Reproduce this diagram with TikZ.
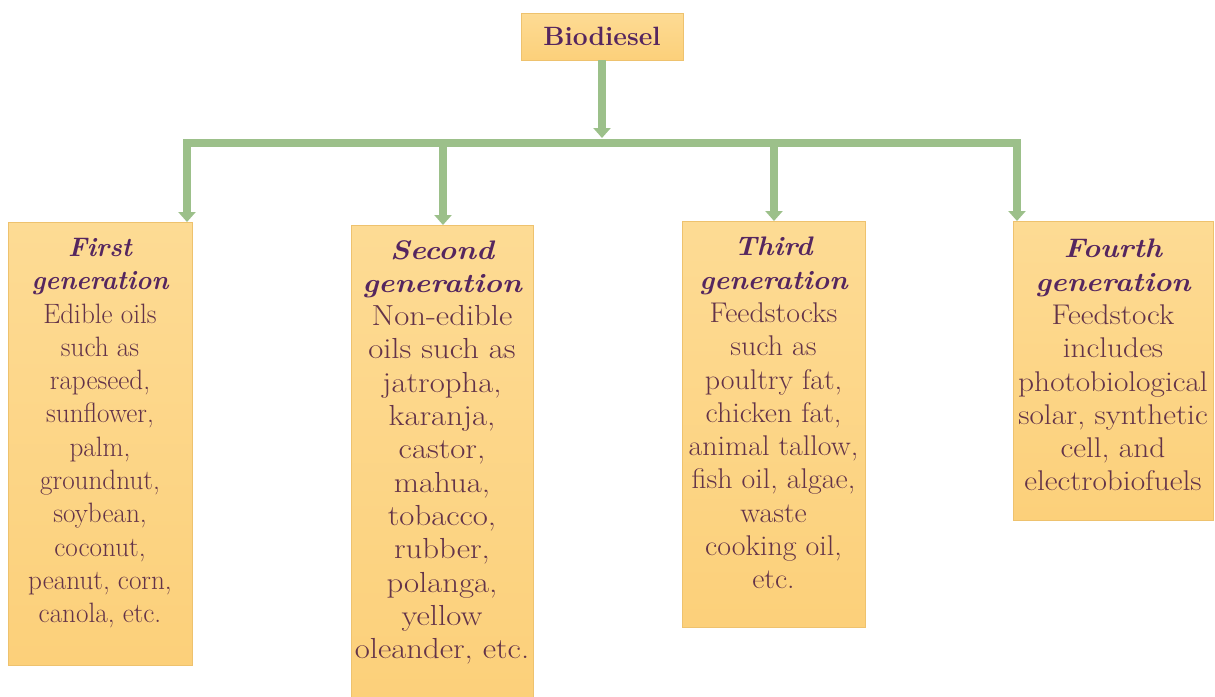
\documentclass[tikz,border=0pt]{standalone}
\usepackage{fontspec}
\usetikzlibrary{arrows.meta}
\definecolor{boxtop}{HTML}{FDDB94}
\definecolor{boxbot}{HTML}{FCD07A}
\definecolor{boxedge}{HTML}{EEC26E}
\definecolor{bodycol}{HTML}{633349}
\definecolor{titlecol}{HTML}{55265F}
\definecolor{conn}{HTML}{9CC08A}
\tikzset{
  genbox/.style={rectangle, draw=boxedge, line width=0.8pt, top color=boxtop, bottom color=boxbot, inner sep=0pt},
  gentext/.style={align=center, inner sep=0pt, anchor=north, text=bodycol, font=\fontsize{28}{33.3}\selectfont},
  bar/.style={draw=conn, line width=8pt},
  drop/.style={draw=conn, line width=8pt, -{Triangle[width=17pt,length=10pt,fill=conn]}},
}
\newcommand{\gtitle}[1]{{\fontsize{26.8}{33.3}\selectfont\bfseries\itshape\color{titlecol}#1}}
\begin{document}
\begin{tikzpicture}[x=1pt,y=-1pt]
\useasboundingbox (0,0) rectangle (1215,696);
% top node
\node[genbox, minimum width=162pt, minimum height=47pt, text=titlecol, font=\fontsize{26.5}{33}\selectfont\bfseries] (bio) at (602,36.5) {Biodiesel};
% boxes
\node[genbox, minimum width=184pt, minimum height=443pt, anchor=north west] (b1) at (8,222) {};
\node[genbox, minimum width=182pt, minimum height=475pt, anchor=north west] (b2) at (351,225) {};
\node[genbox, minimum width=183pt, minimum height=406pt, anchor=north west] (b3) at (682,221) {};
\node[genbox, minimum width=200pt, minimum height=299pt, anchor=north west] (b4) at (1013,221) {};
% texts
\node[gentext, xscale=0.97, transform shape] (t1) at (100,238) {\gtitle{First}\\\gtitle{generation}\\Edible oils\\such as\\rapeseed,\\sunflower,\\palm,\\groundnut,\\soybean,\\coconut,\\peanut, corn,\\canola, etc.};
\node[gentext, font=\fontsize{29}{33.3}\selectfont, xscale=1.13, transform shape] (t2) at (442,240) {\gtitle{Second}\\\gtitle{generation}\\Non-edible\\oils such as\\jatropha,\\karanja,\\castor,\\mahua,\\tobacco,\\rubber,\\polanga,\\yellow\\oleander, etc.};
\node[gentext, font=\fontsize{28.5}{33.3}\selectfont, xscale=1.05, transform shape] (t3) at (773.5,237) {\gtitle{Third}\\\gtitle{generation}\\Feedstocks\\such as\\poultry fat,\\chicken fat,\\animal tallow,\\fish oil, algae,\\waste\\cooking oil,\\etc.};
\node[gentext, font=\fontsize{28.5}{33.3}\selectfont, xscale=1.1, transform shape] (t4) at (1113,239) {\gtitle{Fourth}\\\gtitle{generation}\\Feedstock\\includes\\photobiological\\solar, synthetic\\cell, and\\electrobiofuels};
% connectors
\coordinate (jl) at (187,142.5);
\coordinate (jr) at (1017,142.5);
\coordinate (jm) at (602,138);
\draw[bar, line cap=rect] (jl) -- (jr);
\draw[drop] (bio.south) -- (jm);
\draw[drop] (jl) -- (jl |- b1.north);
\draw[drop] (443,142.5) -- (443,225);
\draw[drop] (774,142.5) -- (774,221);
\draw[drop] (jr) -- (jr |- b4.north);
\end{tikzpicture}
\end{document}
